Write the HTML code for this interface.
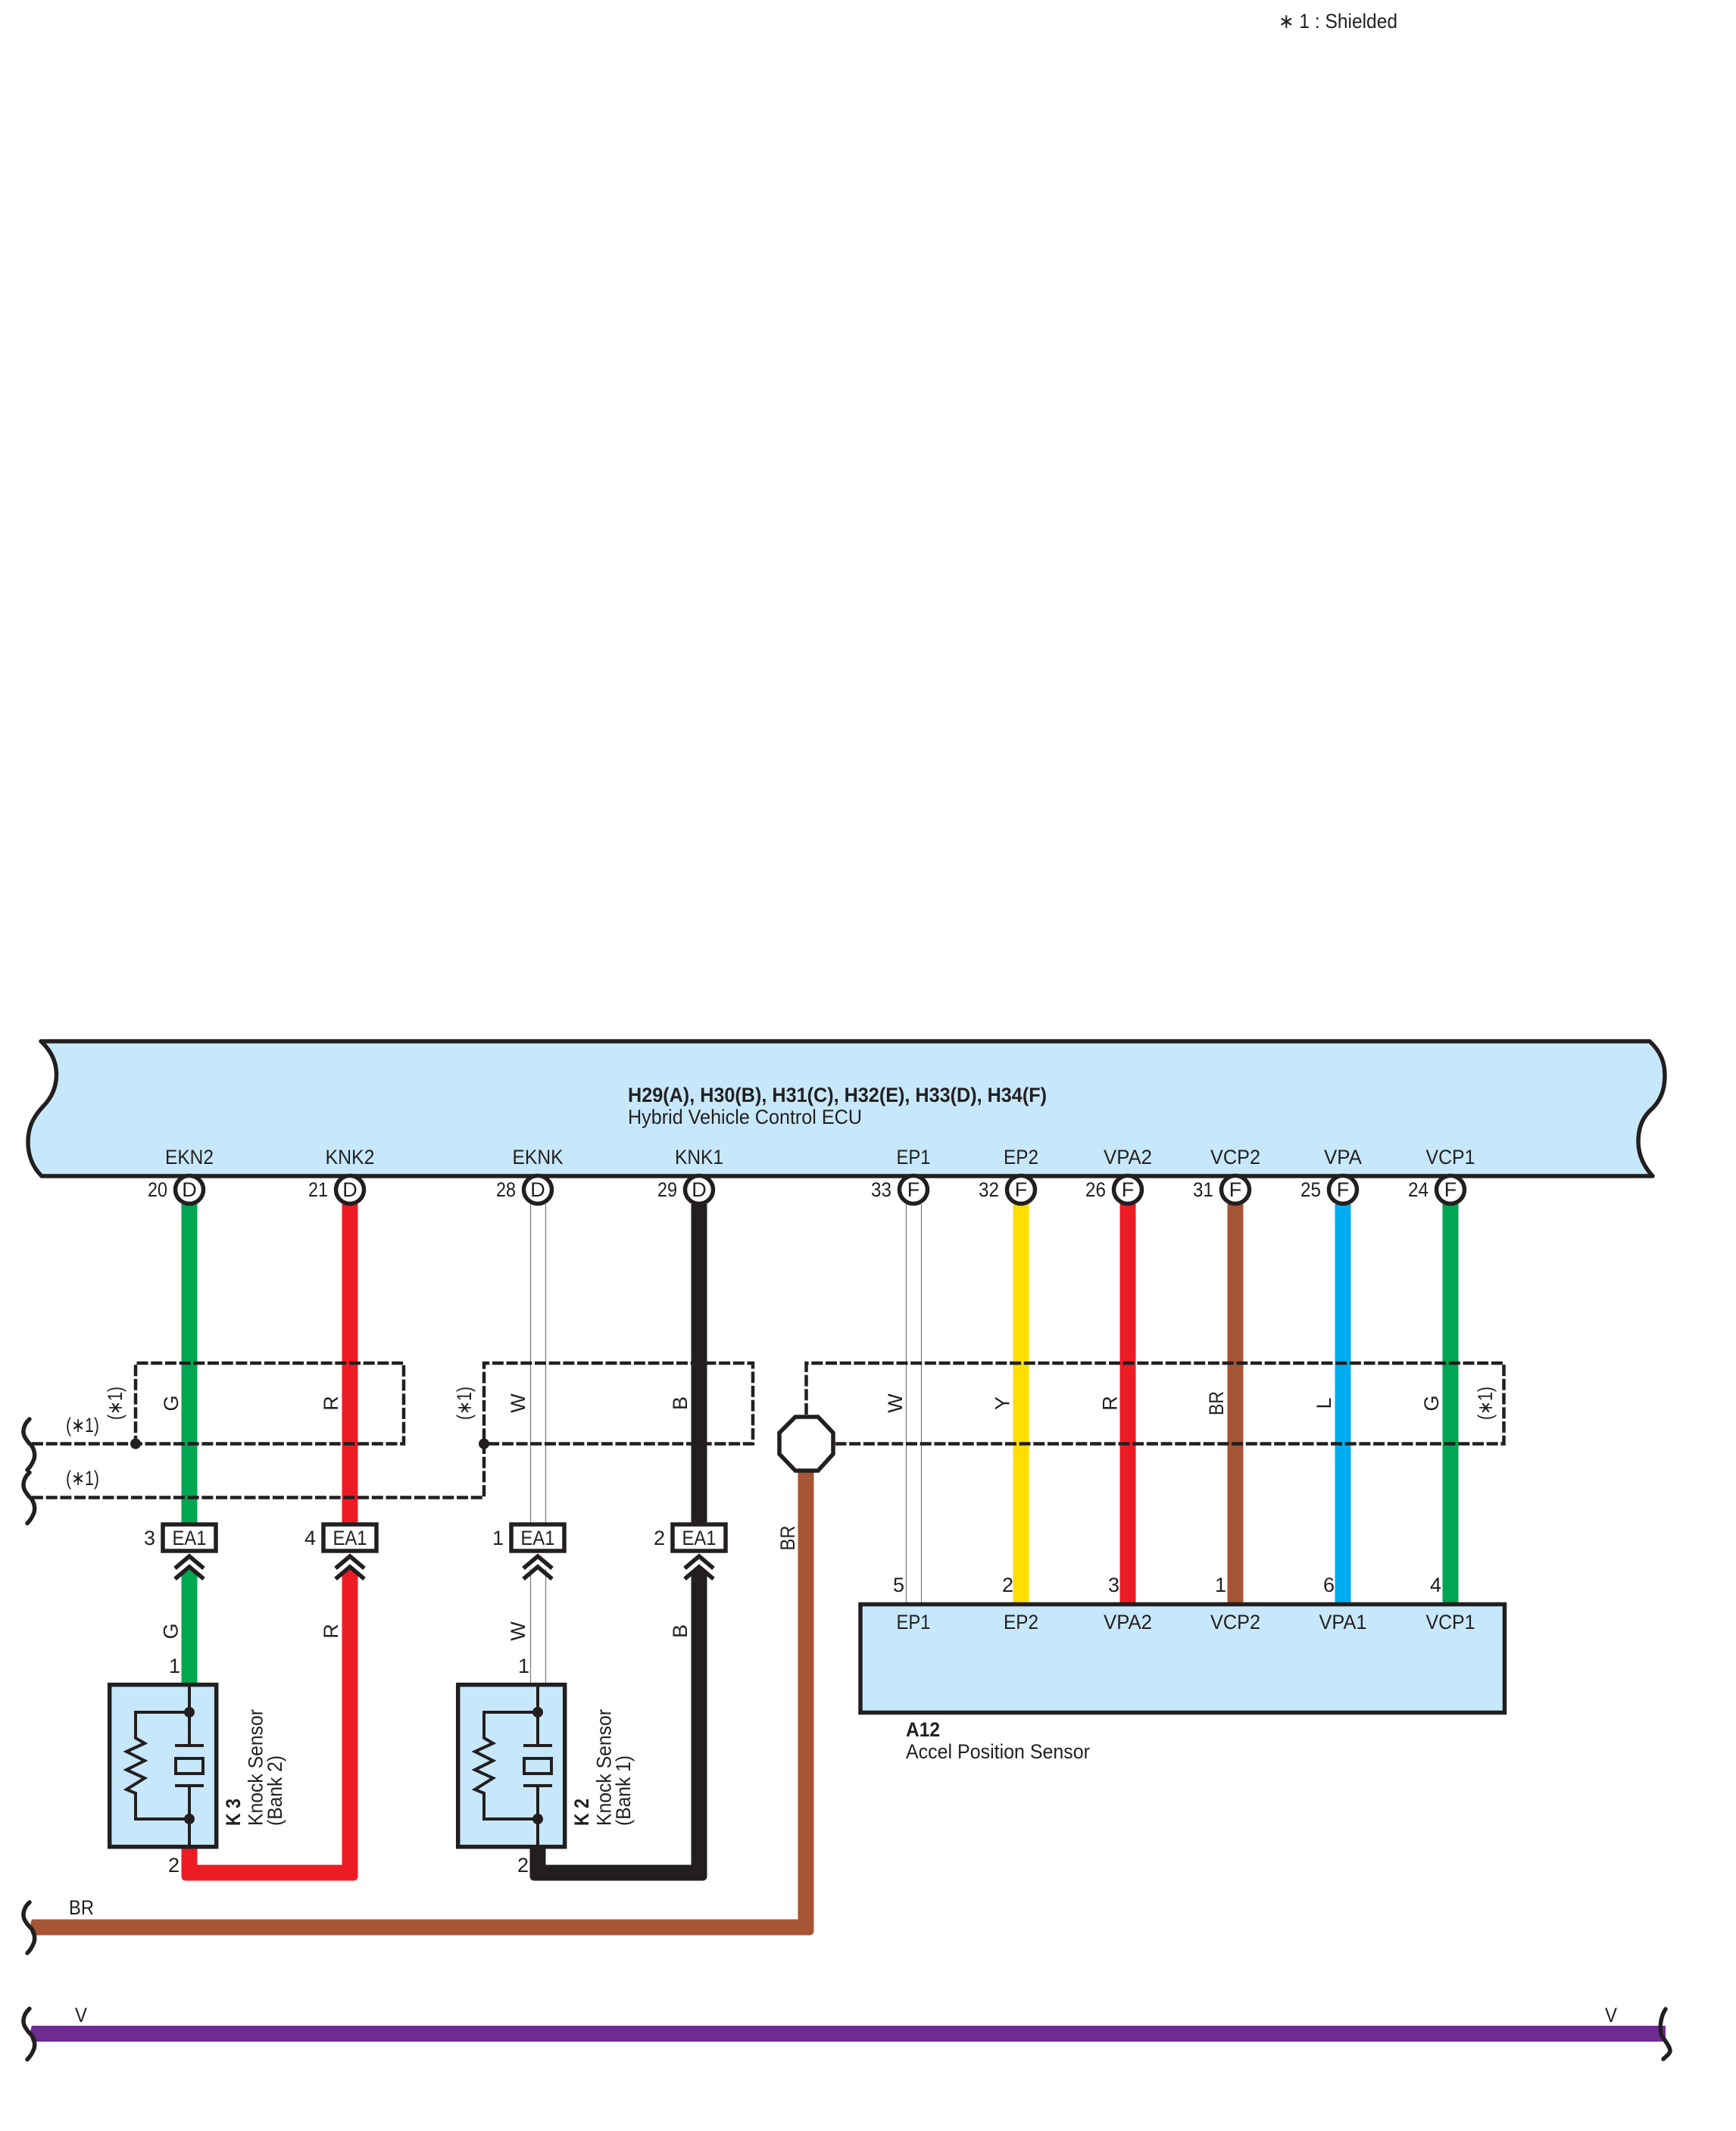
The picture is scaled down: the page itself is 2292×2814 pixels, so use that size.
<!DOCTYPE html>
<html><head><meta charset="utf-8"><style>
html,body{margin:0;padding:0;background:#fff}
svg{display:block}
text{font-family:"Liberation Sans","DejaVu Sans",sans-serif;font-size:27px;fill:#231f20}
.b{font-weight:bold}
.m{text-anchor:middle}
.e{text-anchor:end}
</style></head><body>
<svg width="2292" height="2814" viewBox="0 0 2292 2814" xmlns="http://www.w3.org/2000/svg">
<defs>
<path id="brL" d="M39 -33 C31 -26 29 -16 33 -9 C36 -4 38 -1 41 1 C46 8 47 16 44 22 C42 27 39 31 36 34" fill="none" stroke="#231f20" stroke-width="5.5" stroke-linecap="round"/>
<path id="chev" d="M-19 16 L0 0 L19 16 M-19 30 L0 14 L19 30" fill="none" stroke="#231f20" stroke-width="5.5"/>
<g id="sensor">
<rect x="144.7" y="2224.7" width="141" height="214" fill="#c7e8fb" stroke="#231f20" stroke-width="5.5"/>
<path d="M250 2224 V2305 M231 2305 H269 M231 2358 H269 M250 2358 V2438 M250 2261 H179 V2295 L191 2302 L167 2313 L191 2325 L167 2337 L191 2348 L167 2363 L179 2368 V2402 H250" fill="none" stroke="#231f20" stroke-width="4"/>
<rect x="232" y="2322" width="36" height="20" fill="none" stroke="#231f20" stroke-width="4"/>
<circle cx="250" cy="2261" r="7" fill="#231f20"/>
<circle cx="250" cy="2402" r="7" fill="#231f20"/>
</g>
<g id="pinc"><circle cx="0" cy="1571" r="18.5" fill="#fff" stroke="#231f20" stroke-width="5.5"/></g>
</defs>

<text x="1688" y="37" textLength="157" lengthAdjust="spacingAndGlyphs">∗ 1 : Shielded</text>

<!-- ECU -->
<path d="M54 1375 H2178 C2192 1388 2198 1402 2198 1420 C2198 1440 2192 1455 2178 1467 C2168 1477 2163 1490 2163 1507 C2163 1525 2170 1540 2182 1553 H55 C45 1543 37 1528 37 1508 C37 1490 43 1476 56 1462 C68 1450 74.5 1436 74.5 1419 C74.5 1402 67 1387 54 1375 Z" fill="#c7e8fb" stroke="#231f20" stroke-width="5.5" stroke-linejoin="round"/>
<text class="b" x="829" y="1455" textLength="553" lengthAdjust="spacingAndGlyphs">H29(A), H30(B), H31(C), H32(E), H33(D), H34(F)</text>
<text x="829" y="1484" textLength="309" lengthAdjust="spacingAndGlyphs">Hybrid Vehicle Control ECU</text>

<g class="m">
<text class="m" x="250" y="1537" textLength="64" lengthAdjust="spacingAndGlyphs">EKN2</text>
<text class="m" x="462" y="1537" textLength="65" lengthAdjust="spacingAndGlyphs">KNK2</text>
<text class="m" x="710" y="1537" textLength="67" lengthAdjust="spacingAndGlyphs">EKNK</text>
<text class="m" x="923" y="1537" textLength="64" lengthAdjust="spacingAndGlyphs">KNK1</text>
<text class="m" x="1206" y="1537" textLength="45" lengthAdjust="spacingAndGlyphs">EP1</text>
<text class="m" x="1348" y="1537" textLength="46" lengthAdjust="spacingAndGlyphs">EP2</text>
<text class="m" x="1489" y="1537" textLength="64" lengthAdjust="spacingAndGlyphs">VPA2</text>
<text class="m" x="1631" y="1537" textLength="66" lengthAdjust="spacingAndGlyphs">VCP2</text>
<text class="m" x="1773" y="1537" textLength="50" lengthAdjust="spacingAndGlyphs">VPA</text>
<text class="m" x="1915" y="1537" textLength="65" lengthAdjust="spacingAndGlyphs">VCP1</text>
</g>

<!-- upper wires -->
<rect x="239.5" y="1590" width="21" height="421" fill="#00a651"/>
<rect x="451.5" y="1590" width="21" height="421" fill="#ed1c24"/>
<rect x="912.5" y="1590" width="21" height="421" fill="#231f20"/>
<path d="M700.5 1590 V2011 M720.5 1590 V2011" stroke="#777" stroke-width="1.2" fill="none"/>
<path d="M1196.5 1590 V2116 M1216.5 1590 V2116" stroke="#777" stroke-width="1.2" fill="none"/>
<rect x="1337.5" y="1590" width="21" height="526" fill="#ffde00"/>
<rect x="1478.5" y="1590" width="21" height="526" fill="#ed1c24"/>
<rect x="1620.5" y="1590" width="21" height="526" fill="#a65535"/>
<rect x="1762.5" y="1590" width="21" height="526" fill="#00aeef"/>
<rect x="1904.5" y="1590" width="21" height="526" fill="#00a651"/>

<!-- pins -->
<use href="#pinc" x="250"/><use href="#pinc" x="462"/><use href="#pinc" x="710"/><use href="#pinc" x="923"/>
<use href="#pinc" x="1206"/><use href="#pinc" x="1348"/><use href="#pinc" x="1489"/><use href="#pinc" x="1631"/><use href="#pinc" x="1773"/><use href="#pinc" x="1915"/>
<text class="m" x="250" y="1580">D</text><text class="m" x="462" y="1580">D</text><text class="m" x="710" y="1580">D</text><text class="m" x="923" y="1580">D</text>
<text class="m" x="1206" y="1580">F</text><text class="m" x="1348" y="1580">F</text><text class="m" x="1489" y="1580">F</text><text class="m" x="1631" y="1580">F</text><text class="m" x="1773" y="1580">F</text><text class="m" x="1915" y="1580">F</text>
<text class="e" x="221" y="1580" textLength="26" lengthAdjust="spacingAndGlyphs">20</text>
<text class="e" x="433" y="1580" textLength="26" lengthAdjust="spacingAndGlyphs">21</text>
<text class="e" x="681" y="1580" textLength="26" lengthAdjust="spacingAndGlyphs">28</text>
<text class="e" x="894" y="1580" textLength="26" lengthAdjust="spacingAndGlyphs">29</text>
<text class="e" x="1177" y="1580" textLength="27" lengthAdjust="spacingAndGlyphs">33</text>
<text class="e" x="1319" y="1580" textLength="27" lengthAdjust="spacingAndGlyphs">32</text>
<text class="e" x="1460" y="1580" textLength="27" lengthAdjust="spacingAndGlyphs">26</text>
<text class="e" x="1602" y="1580" textLength="27" lengthAdjust="spacingAndGlyphs">31</text>
<text class="e" x="1744" y="1580" textLength="27" lengthAdjust="spacingAndGlyphs">25</text>
<text class="e" x="1886" y="1580" textLength="27" lengthAdjust="spacingAndGlyphs">24</text>

<!-- lower wires -->
<path d="M250 2067 L260.5 2077 V2222 H239.5 V2077 Z" fill="#00a651"/>
<path d="M239.5 2438 V2477 Q239.5 2483.5 246 2483.5 H466 Q472.5 2483.5 472.5 2477 V2077 L462 2067 L451.5 2077 V2462.5 H260.5 V2438 Z" fill="#ed1c24"/>
<path d="M699.5 2438 V2477 Q699.5 2483.5 706 2483.5 H927 Q933.5 2483.5 933.5 2477 V2077 L923 2067 L912.5 2077 V2462.5 H720.5 V2438 Z" fill="#231f20"/>
<path d="M700.5 2072 V2222 M720.5 2072 V2222" stroke="#777" stroke-width="1.2" fill="none"/>
<path d="M1053.5 1942 V2534.5 H42 Q38 2545 42 2555.5 H1068 Q1074.5 2555.5 1074.5 2549 V1942 Z" fill="#a65535"/>
<path d="M42 2675 H2199 V2696 H42 Q38 2685.5 42 2675 Z" fill="#6f2c91"/>

<!-- sensors -->
<use href="#sensor"/>
<use href="#sensor" x="460"/>
<text class="b" transform="translate(317,2411) rotate(-90)" textLength="36" lengthAdjust="spacingAndGlyphs">K 3</text>
<text transform="translate(346.5,2411) rotate(-90)" textLength="154" lengthAdjust="spacingAndGlyphs">Knock Sensor</text>
<text transform="translate(372,2411) rotate(-90)" textLength="93" lengthAdjust="spacingAndGlyphs">(Bank 2)</text>
<text class="b" transform="translate(777,2411) rotate(-90)" textLength="36" lengthAdjust="spacingAndGlyphs">K 2</text>
<text transform="translate(806.5,2411) rotate(-90)" textLength="154" lengthAdjust="spacingAndGlyphs">Knock Sensor</text>
<text transform="translate(832,2411) rotate(-90)" textLength="93" lengthAdjust="spacingAndGlyphs">(Bank 1)</text>

<!-- A12 -->
<rect x="1136" y="2118.5" width="850.5" height="143" fill="#c7e8fb" stroke="#231f20" stroke-width="5.5"/>
<text class="m" x="1206" y="2151" textLength="45" lengthAdjust="spacingAndGlyphs">EP1</text>
<text class="m" x="1348" y="2151" textLength="46" lengthAdjust="spacingAndGlyphs">EP2</text>
<text class="m" x="1489" y="2151" textLength="64" lengthAdjust="spacingAndGlyphs">VPA2</text>
<text class="m" x="1631" y="2151" textLength="66" lengthAdjust="spacingAndGlyphs">VCP2</text>
<text class="m" x="1773" y="2151" textLength="63" lengthAdjust="spacingAndGlyphs">VPA1</text>
<text class="m" x="1915" y="2151" textLength="65" lengthAdjust="spacingAndGlyphs">VCP1</text>
<text class="b" x="1196" y="2293" textLength="45" lengthAdjust="spacingAndGlyphs">A12</text>
<text x="1196" y="2322" textLength="243" lengthAdjust="spacingAndGlyphs">Accel Position Sensor</text>
<text class="e" x="1194" y="2102">5</text><text class="e" x="1338" y="2102">2</text><text class="e" x="1478" y="2102">3</text><text class="e" x="1619" y="2102">1</text><text class="e" x="1762" y="2102">6</text><text class="e" x="1903" y="2102">4</text>

<!-- shield dashes -->
<g fill="none" stroke="#231f20" stroke-width="4.5" stroke-dasharray="15 3.7">
<path d="M42 1906.5 H533 V1800 H179 V1906.5"/>
<path d="M42 1977.5 H639 V1800 H994 V1906.5 H639"/>
<path d="M1064.5 1868 V1800 H1985.5 V1906.5 H1103"/>
</g>
<circle cx="179" cy="1906.5" r="7" fill="#231f20"/>
<circle cx="639" cy="1906.5" r="7" fill="#231f20"/>

<!-- octagon -->
<path d="M1050 1871 H1080 L1100 1892 V1920 L1080 1942 H1050 L1029 1920 V1892 Z" fill="#fff" stroke="#231f20" stroke-width="5.5" stroke-linejoin="miter"/>

<!-- braces -->
<use href="#brL" y="1907"/>
<use href="#brL" y="1977.5"/>
<use href="#brL" y="2545"/>
<use href="#brL" y="2685.5"/>
<path d="M2199 2653 C2193 2662 2191 2675 2193 2686 C2197 2694 2205 2702 2205 2708 C2205 2712 2199 2716 2196 2719" fill="none" stroke="#231f20" stroke-width="5.5" stroke-linecap="round"/>

<!-- EA1 connectors -->
<g fill="#fff" stroke="#231f20" stroke-width="5.5">
<rect x="215" y="2013" width="70" height="35"/>
<rect x="427" y="2013" width="70" height="35"/>
<rect x="675" y="2013" width="70" height="35"/>
<rect x="888" y="2013" width="70" height="35"/>
</g>
<text class="m" x="250" y="2040" textLength="45" lengthAdjust="spacingAndGlyphs">EA1</text>
<text class="m" x="462" y="2040" textLength="45" lengthAdjust="spacingAndGlyphs">EA1</text>
<text class="m" x="710" y="2040" textLength="45" lengthAdjust="spacingAndGlyphs">EA1</text>
<text class="m" x="923" y="2040" textLength="45" lengthAdjust="spacingAndGlyphs">EA1</text>
<use href="#chev" x="250" y="2055"/>
<use href="#chev" x="462" y="2055"/>
<use href="#chev" x="710" y="2055"/>
<use href="#chev" x="923" y="2055"/>
<text class="e" x="205" y="2040">3</text><text class="e" x="417" y="2040">4</text><text class="e" x="665" y="2040">1</text><text class="e" x="878" y="2040">2</text>

<!-- wire labels -->
<text class="m" transform="translate(235,1853) rotate(-90)">G</text>
<text class="m" transform="translate(446,1853) rotate(-90)">R</text>
<text class="m" transform="translate(693,1853) rotate(-90)">W</text>
<text class="m" transform="translate(907,1853) rotate(-90)">B</text>
<text class="m" transform="translate(1191,1853) rotate(-90)">W</text>
<text class="m" transform="translate(1332.5,1853) rotate(-90)">Y</text>
<text class="m" transform="translate(1474.5,1853) rotate(-90)">R</text>
<text class="m" transform="translate(1615,1853) rotate(-90)" textLength="32" lengthAdjust="spacingAndGlyphs">BR</text>
<text class="m" transform="translate(1757,1853) rotate(-90)">L</text>
<text class="m" transform="translate(1899,1853) rotate(-90)">G</text>
<text class="m" transform="translate(234.5,2154) rotate(-90)">G</text>
<text class="m" transform="translate(446,2154) rotate(-90)">R</text>
<text class="m" transform="translate(693,2154) rotate(-90)">W</text>
<text class="m" transform="translate(907,2154) rotate(-90)">B</text>
<text class="m" transform="translate(1049,2031) rotate(-90)" textLength="33" lengthAdjust="spacingAndGlyphs">BR</text>
<text x="91" y="2528" textLength="33" lengthAdjust="spacingAndGlyphs">BR</text>
<text class="m" x="107" y="2670" textLength="16" lengthAdjust="spacingAndGlyphs">V</text>
<text class="m" x="2127" y="2670" textLength="16" lengthAdjust="spacingAndGlyphs">V</text>
<text class="e" x="238" y="2209">1</text>
<text class="e" x="699" y="2209">1</text>
<text class="e" x="237" y="2472">2</text>
<text class="e" x="698" y="2472">2</text>

<!-- (*1) labels -->
<text x="87" y="1891" textLength="44" lengthAdjust="spacingAndGlyphs">(∗1)</text>
<text x="87" y="1961" textLength="44" lengthAdjust="spacingAndGlyphs">(∗1)</text>
<text class="m" transform="translate(161,1853) rotate(-90)" textLength="44" lengthAdjust="spacingAndGlyphs">(∗1)</text>
<text class="m" transform="translate(622,1853) rotate(-90)" textLength="44" lengthAdjust="spacingAndGlyphs">(∗1)</text>
<text class="m" transform="translate(1970,1853) rotate(-90)" textLength="44" lengthAdjust="spacingAndGlyphs">(∗1)</text>
</svg>
</body></html>
